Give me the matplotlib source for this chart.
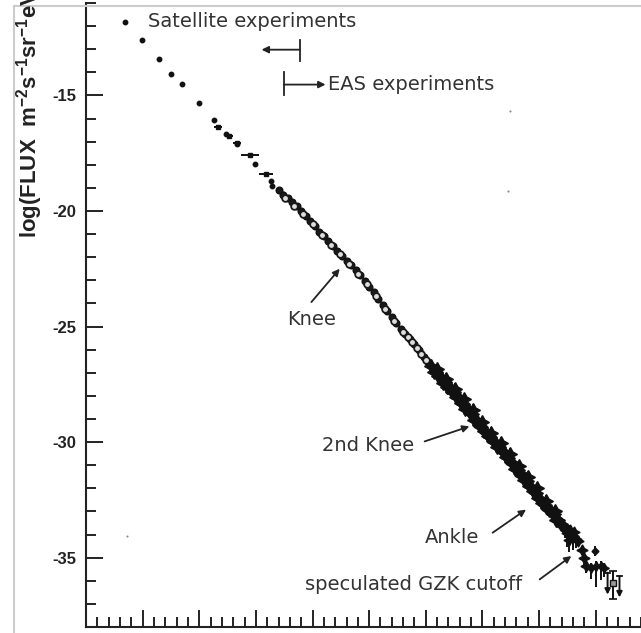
import matplotlib
matplotlib.use("Agg")
import matplotlib.pyplot as plt
from matplotlib.lines import Line2D

plt.rcParams['mathtext.fontset'] = 'custom'
plt.rcParams['mathtext.bf'] = 'Liberation Sans:bold'
plt.rcParams['mathtext.rm'] = 'Liberation Sans:bold'
plt.rcParams['mathtext.default'] = 'bf'
plt.rcParams['axes.unicode_minus'] = False

# ---------------- data (log10 E [eV], log10 flux) ----------------
direct_x = [11.69, 11.99, 12.29, 12.50, 12.70, 12.99, 13.26, 13.47, 13.66, 13.99, 14.27, 14.29, 14.47]
direct_y = [-11.84, -12.62, -13.42, -14.06, -14.50, -15.33, -16.08, -16.65, -17.10, -17.97, -18.69, -18.91, -19.27]

hbar_x = [13.33, 13.53, 13.66, 13.89, 14.18]
hbar_y = [-16.35, -16.75, -17.04, -17.56, -18.41]
hbar_xerr = [0.07, 0.06, 0.07, 0.16, 0.13]

knee_x = [14.40, 14.48, 14.56, 14.64, 14.72, 14.80, 14.88, 14.96, 15.04, 15.12, 15.20, 15.28,
          15.36, 15.44, 15.52, 15.60, 15.68, 15.76, 15.84, 15.92, 16.00, 16.08, 16.16, 16.24,
          16.32, 16.40, 16.48, 16.56, 16.64, 16.72, 16.80, 16.88, 16.96, 17.04, 17.12]
knee_y = [-19.10, -19.30, -19.45, -19.62, -19.80, -20.00, -20.22, -20.44, -20.66, -20.90, -21.08, -21.30,
          -21.52, -21.74, -21.95, -22.15, -22.34, -22.57, -22.79, -23.02, -23.27, -23.52, -23.80, -24.06,
          -24.33, -24.60, -24.86, -25.10, -25.33, -25.52, -25.76, -26.03, -26.30, -26.55, -26.78]

ring_x = [14.52, 14.68, 14.84, 15.00, 15.16, 15.32, 15.48, 15.64, 15.80, 15.96, 16.12, 16.28,
          16.44, 16.60, 16.68, 16.76, 16.84, 16.92, 17.00]
ring_y = [-19.42, -19.78, -20.14, -20.58, -21.02, -21.45, -21.88, -22.28, -22.72, -23.18, -23.68, -24.22,
          -24.76, -25.25, -25.45, -25.66, -25.93, -26.20, -26.45]

band1_x = [17.10, 17.18, 17.26, 17.34, 17.42, 17.50, 17.58, 17.66, 17.74, 17.82, 17.90, 17.98, 18.06, 18.14,
           18.22, 18.30, 18.38, 18.46, 18.54, 18.62, 18.70, 18.78, 18.86, 18.94, 19.02, 19.10, 19.18, 19.26,
           19.34, 19.42]
band1_y = [-26.72, -26.97, -27.19, -27.42, -27.63, -27.85, -28.08, -28.33, -28.56, -28.80, -29.07, -29.33,
           -29.55, -29.78, -30.00, -30.22, -30.44, -30.67, -30.93, -31.20, -31.45, -31.70, -31.96, -32.20,
           -32.45, -32.70, -32.93, -33.13, -33.38, -33.62]

band2_x = [17.14, 17.22, 17.30, 17.38, 17.46, 17.54, 17.62, 17.70, 17.78, 17.86, 17.94, 18.02, 18.10, 18.18,
           18.26, 18.34, 18.42, 18.50, 18.58, 18.66, 18.74, 18.82, 18.90, 18.98, 19.06, 19.14, 19.22, 19.30,
           19.38]
band2_y = [-26.95, -27.15, -27.45, -27.62, -27.85, -28.05, -28.32, -28.55, -28.72, -29.05, -29.25, -29.52,
           -29.75, -29.95, -30.22, -30.40, -30.65, -30.85, -31.15, -31.35, -31.62, -31.88, -32.12, -32.40,
           -32.62, -32.85, -33.08, -33.35, -33.55]

band3_x = [17.20, 17.36, 17.52, 17.68, 17.84, 18.00, 18.16, 18.32, 18.48, 18.64, 18.80, 18.96, 19.12, 19.28]
band3_y = [-26.85, -27.25, -27.70, -28.15, -28.62, -29.15, -29.60, -30.05, -30.50, -31.05, -31.50, -32.00,
           -32.55, -33.00]

clus_x = [19.45, 19.50, 19.55, 19.60, 19.65, 19.52, 19.62, 19.68, 19.75, 19.80, 19.83]
clus_y = [-33.75, -33.95, -33.80, -34.05, -34.20, -34.25, -33.90, -34.28, -34.65, -35.00, -35.36]
clus_lo = [0.40, 0.60, 0.50, 0.60, 0.40, 0.50, 0.30, 0.20, 0.20, 0.30, 0.30]
clus_hi = [0.20, 0.20, 0.20, 0.20, 0.20, 0.20, 0.20, 0.15, 0.15, 0.15, 0.15]

tail_x = [19.92, 20.00, 20.09, 20.14]
tail_y = [-35.43, -35.36, -35.36, -35.43]
tail_lo = [0.50, 0.90, 0.60, 0.40]
tail_hi = [0.20, 0.20, 0.20, 0.20]

high_x = [19.98]
high_y = [-34.71]
high_err = [0.20]

sq_x = [20.30]
sq_y = [-36.08]
sq_lo = [0.72]
sq_hi = [0.51]

ul_x = [20.21, 20.42]
ul_top = [-35.65, -35.80]
ul_bot = [-36.60, -36.72]

stray_x = [18.48, 18.45, 11.72]
stray_y = [-15.69, -19.14, -34.05]

yticks_major = [-35, -30, -25, -20, -15]

# ---------------- figure ----------------
W, H = 641, 633
fig = plt.figure(figsize=(W / 100, H / 100), dpi=100)
ax = fig.add_axes([86 / W, (H - 627) / H, (W - 86) / W, (627 - 3) / H])
ax.set_xlim(11, 11 + (W - 86) / 56.7)
ax.set_ylim(-38, -11)

k = '#111111'
ax.plot(direct_x, direct_y, 'o', ms=3.2, color=k, mec=k)
ax.errorbar(hbar_x, hbar_y, xerr=hbar_xerr, fmt='s', ms=2.5, color=k, elinewidth=1.4, capsize=0)
ax.plot(knee_x, knee_y, 'o', ms=4.8, color='#1a1a1a', mec='#111111')
ax.plot(ring_x, ring_y, 'o', ms=4.8, mfc='#dddddd', mec='#1a1a1a', mew=1.3)
star = (4, 1, 0)
for bx, by in [(band1_x, band1_y), (band2_x, band2_y), (band3_x, band3_y)]:
    ax.errorbar(bx, by, yerr=0.25, fmt='none', ecolor=k, elinewidth=1.2)
    ax.plot(bx, by, marker=star, ls='none', ms=10, color=k)
ax.errorbar(clus_x, clus_y, yerr=[clus_lo, clus_hi], fmt='none', ecolor=k, elinewidth=1.4)
ax.plot(clus_x, clus_y, marker=star, ls='none', ms=8, color=k)
ax.errorbar(tail_x, tail_y, yerr=[tail_lo, tail_hi], fmt='none', ecolor=k, elinewidth=1.4)
ax.plot(tail_x, tail_y, marker=star, ls='none', ms=7, color=k)
ax.errorbar(high_x, high_y, yerr=high_err, fmt='D', ms=3.5, color=k, elinewidth=1.4)
ax.errorbar(sq_x, sq_y, yerr=[sq_lo, sq_hi], fmt='s', ms=4.5, mfc='#999999', mec=k, ecolor=k,
            elinewidth=1.4, capsize=3, capthick=1.2)
for x0, t, b in zip(ul_x, ul_top, ul_bot):
    ax.annotate('', xy=(x0, b), xytext=(x0, t),
                arrowprops=dict(arrowstyle='-|>', color=k, lw=1.4, mutation_scale=8, shrinkA=0, shrinkB=0))
    ax.plot([x0 - 0.04, x0 + 0.04], [t, t], color=k, lw=1.3)
ax.plot(stray_x, stray_y, 'o', ms=1.5, color='#888888', mec='none')

# axes styling
for s in ['top', 'right']:
    ax.spines[s].set_visible(False)
for s in ['left', 'bottom']:
    ax.spines[s].set_linewidth(1.5)
    ax.spines[s].set_color('#222222')
ax.set_xticks(range(11, 21))
ax.set_xticks([11 + i * 0.2 for i in range(50)], minor=True)
ax.set_yticks(yticks_major)
ax.set_yticks(list(range(-38, -10)), minor=True)
ax.tick_params(which='both', direction='in', color='#222222', width=1.4)
ax.tick_params(which='major', length=12)
ax.tick_params(which='minor', length=7)
ax.tick_params(axis='x', labelbottom=False)
ax.tick_params(axis='y', pad=7)
for lab in ax.get_yticklabels():
    lab.set_fontfamily('Liberation Sans')
    lab.set_fontweight('bold')
    lab.set_fontsize(12)
    lab.set_color('#222222')

# y label (its top runs off the picture, as in the original)
fig.text(30 / W, (H - 238) / H,
         r'log(FLUX  m$^{-2}$s$^{-1}$sr$^{-1}$eV$^{-1}$)',
         rotation=90, ha='center', va='bottom', fontsize=16, fontweight='bold',
         family='Liberation Sans', color='#222222')

# annotations
tc = '#333333'
tf = dict(fontsize=14, color=tc, family='DejaVu Sans')
ax.text(12.09, -11.81, 'Satellite experiments', ha='left', va='center', **tf)
ax.text(15.27, -14.53, 'EAS experiments', ha='left', va='center', **tf)
ax.text(14.99, -24.70, 'Knee', ha='center', va='center', **tf)
ax.text(15.98, -30.13, '2nd Knee', ha='center', va='center', **tf)
ax.text(17.47, -34.14, 'Ankle', ha='center', va='center', **tf)
ax.text(16.78, -36.16, 'speculated GZK cutoff', ha='center', va='center', **tf)

ap = dict(arrowstyle='-|>', color='#222222', lw=1.3, mutation_scale=10, shrinkA=0, shrinkB=0)
ax.annotate('', xy=(14.10, -13.02), xytext=(14.774, -13.02), arrowprops=ap)
ax.plot([14.774, 14.774], [-12.59, -13.49], color='#222222', lw=1.3)
ax.annotate('', xy=(15.23, -14.53), xytext=(14.492, -14.53), arrowprops=ap)
ax.plot([14.492, 14.492], [-13.97, -15.0], color='#222222', lw=1.3)
ax.annotate('', xy=(15.48, -22.50), xytext=(14.98, -23.94), arrowprops=ap)
ax.annotate('', xy=(17.77, -29.32), xytext=(16.98, -29.97), arrowprops=ap)
ax.annotate('', xy=(18.77, -32.92), xytext=(18.18, -33.92), arrowprops=ap)
ax.annotate('', xy=(19.57, -34.93), xytext=(19.01, -35.94), arrowprops=ap)

# light grey frame of the picture
fig.add_artist(Line2D([14 / W, 14 / W], [0, (H - 6) / H], color='#cccccc', lw=1.5))
fig.add_artist(Line2D([14 / W, 1], [(H - 6) / H, (H - 6) / H], color='#cccccc', lw=1.5))

fig.savefig('out.png', dpi=100)
